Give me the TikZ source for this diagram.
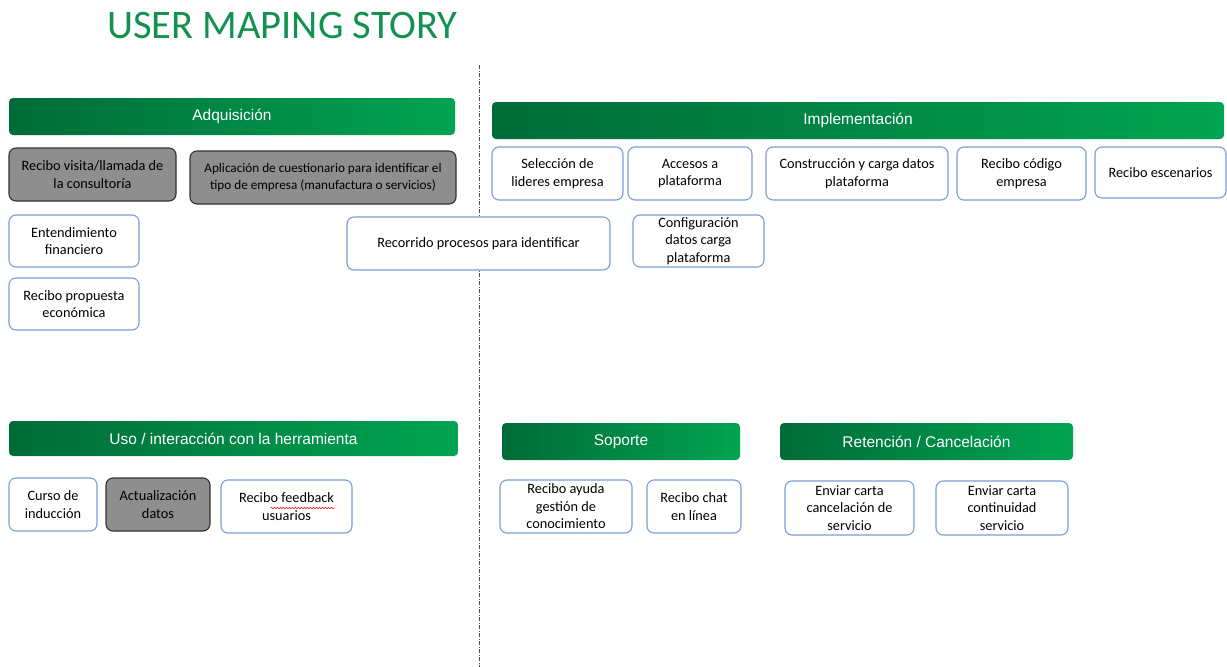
\documentclass[tikz,border=0pt]{standalone}
\usepackage{fontspec}
\setmainfont{Carlito}
\newfontfamily\hdfont{Liberation Sans}
\usetikzlibrary{decorations.pathmorphing}
\definecolor{tgreen}{HTML}{13924F}
\definecolor{hdark}{HTML}{006B38}
\definecolor{hlight}{HTML}{00A452}
\definecolor{bblue}{HTML}{7A9ED8}
\definecolor{gfill}{HTML}{8E8E8E}
\tikzset{
  hdr/.style={rounded corners=4pt, left color=hdark, right color=hlight, draw=none, text=white, font=\hdfont\fontsize{15.5}{18}\selectfont, inner sep=0pt},
  wbox/.style={rounded corners=7pt, draw=bblue, line width=1.1pt, fill=white, font=\fontsize{14.3}{17.5}\selectfont, inner sep=1pt},
  gbox/.style={rounded corners=7pt, draw=black!80, line width=1.1pt, fill=gfill, font=\fontsize{14.3}{17.5}\selectfont, inner sep=1pt},
  squig/.style={red, line width=0.5pt, decorate, decoration={snake, amplitude=0.7pt, segment length=3pt}},
}
\newcommand\bx[7]{\node[#1, minimum width={(#5-#3)*1pt}, minimum height={(#6-#4)*1pt}, align=center] (#2) at ({(#3+#5)/2*1pt},{-(#4+#6)/2*1pt}) {#7};}
\begin{document}
\begin{tikzpicture}
\useasboundingbox (0,0) rectangle (1227pt,-667pt);
\fill[white] (0,0) rectangle (1227pt,-667pt);
% title
\node[text=tgreen, font=\fontsize{40.5}{44}\selectfont, anchor=west, inner sep=0pt] (title) at (107pt,-26pt) {USER MAPING STORY};
% divider
\coordinate (dtop) at (479pt,-65pt);
\coordinate (dbot) at (479pt,-667pt);
\draw[black!70, line width=0.8pt, dash pattern=on 4pt off 1.5pt on 1pt off 1.5pt] (dtop) -- (dbot);
% Adquisicion
\bx{hdr}{adq}{9}{98}{455}{135}{Adquisición}
\bx{gbox}{a1}{9}{148}{176}{201}{Recibo visita/llamada de\\la consultoría}
\bx{gbox}{a2}{190}{151}{456}{204}{\fontsize{13.2}{16.5}\selectfont Aplicación de cuestionario para identificar el\\\fontsize{13.2}{16.5}\selectfont tipo de empresa (manufactura o servicios)}
\bx{wbox}{a3}{9}{215}{139}{267}{Entendimiento\\financiero}
\bx{wbox}{a4}{9}{278}{139}{330}{Recibo propuesta\\económica}
\bx{wbox}{a5}{347}{217}{610}{270}{Recorrido procesos para identificar}
% Implementacion
\bx{hdr}{imp}{492}{102}{1224}{139}{Implementación}
\bx{wbox}{i1}{492}{147}{623}{200}{Selección de\\lideres empresa}
\bx{wbox}{i2}{628}{147}{752}{200}{Accesos a\\plataforma}
\bx{wbox}{i3}{766}{147}{948}{200}{Construcción y carga datos\\plataforma}
\bx{wbox}{i4}{957}{147}{1086}{200}{Recibo código\\empresa}
\bx{wbox}{i5}{1095}{147}{1226}{198}{Recibo escenarios}
\bx{wbox}{i6}{633}{215}{764}{267}{Configuración\\datos carga\\plataforma}
% Uso
\bx{hdr}{uso}{9}{421}{458}{456}{Uso / interacción con la herramienta}
\bx{wbox}{u1}{9}{478}{97}{531}{Curso de\\inducción}
\bx{gbox}{u2}{106}{478}{210}{531}{Actualización\\datos}
\bx{wbox}{u3}{221}{480}{352}{533}{Recibo feedback\\usuarios}
\draw[squig] ([xshift=-16pt,yshift=-1.5pt]u3.center) -- ([xshift=48pt,yshift=-1.5pt]u3.center);
% Soporte
\bx{hdr}{sop}{502}{423}{740}{460}{Soporte}
\bx{wbox}{s1}{500}{480}{632}{533}{Recibo ayuda\\gestión de\\conocimiento}
\bx{wbox}{s2}{647}{480}{741}{533}{Recibo chat\\en línea}
% Retencion
\bx{hdr}{ret}{780}{423}{1073}{460}{Retención / Cancelación}
\bx{wbox}{r1}{785}{481}{914}{535}{Enviar carta\\cancelación de\\servicio}
\bx{wbox}{r2}{936}{481}{1068}{535}{Enviar carta\\continuidad\\servicio}
\end{tikzpicture}
\end{document}
